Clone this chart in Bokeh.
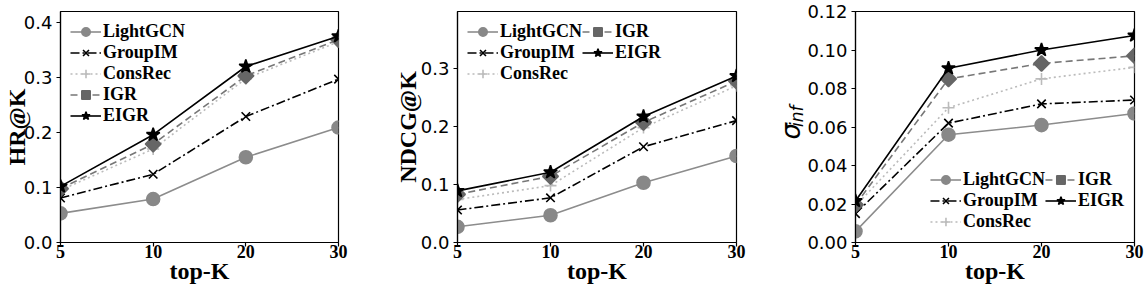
import math
from bokeh.plotting import figure
from bokeh.layouts import row
from bokeh.models import (Range1d, FixedTicker, Legend, LegendItem, LinearAxis,
                          NumeralTickFormatter)
from bokeh.embed import file_html
from bokeh.resources import INLINE

# ---------------- data ----------------
top_k = ["5", "10", "20", "30"]
methods = ["LightGCN", "GroupIM", "ConsRec", "IGR", "EIGR"]

hr_lightgcn = [0.053, 0.079, 0.155, 0.209]
hr_groupim = [0.081, 0.124, 0.229, 0.297]
hr_consrec = [0.095, 0.170, 0.298, 0.365]
hr_igr = [0.098, 0.179, 0.303, 0.369]
hr_eigr = [0.102, 0.196, 0.320, 0.375]

ndcg_lightgcn = [0.027, 0.047, 0.103, 0.149]
ndcg_groupim = [0.056, 0.077, 0.165, 0.210]
ndcg_consrec = [0.074, 0.098, 0.198, 0.270]
ndcg_igr = [0.083, 0.114, 0.207, 0.278]
ndcg_eigr = [0.089, 0.121, 0.217, 0.287]

sig_lightgcn = [0.0058, 0.056, 0.061, 0.067]
sig_groupim = [0.015, 0.062, 0.072, 0.074]
sig_consrec = [0.019, 0.070, 0.085, 0.091]
sig_igr = [0.0196, 0.085, 0.093, 0.097]
sig_eigr = [0.0216, 0.0905, 0.100, 0.1075]

hr_ticks = [0.0, 0.1, 0.2, 0.3, 0.4]
ndcg_ticks = [0.0, 0.1, 0.2, 0.3]
sig_ticks = [0.0, 0.02, 0.04, 0.06, 0.08, 0.10, 0.12]

# ---------------- styles ----------------
styles = {
    "LightGCN": dict(line="#8c8c8c", fill="#888888", dash="solid", marker="circle", size=13, angle=0.0),
    "GroupIM": dict(line="#000000", fill="#000000", dash="9 3 2 3", marker="x", size=12, angle=0.0),
    "ConsRec": dict(line="#bbbbbb", fill="#bbbbbb", dash="2 3", marker="cross", size=12, angle=0.0),
    "IGR": dict(line="#777777", fill="#666666", dash="7 4", marker="square", size=11, angle=math.pi / 4),
    "EIGR": dict(line="#000000", fill="#000000", dash="solid", marker="star", size=14, angle=0.0),
}

SERIF = "Liberation Serif"
SANS = "DejaVu Sans"
H = 288
NBSP = "\u00a0"


def make_panel(ylabel, ylabel_standoff, series, yend, ticks, fmt, width, bl, br, loc, nrows):
    p = figure(width=width, height=H, x_range=Range1d(0, 3), y_range=Range1d(0, yend),
               output_backend="svg", toolbar_location=None,
               min_border_left=bl, min_border_right=br, min_border_top=11,
               min_border_bottom=46)
    p.xgrid.visible = False
    p.ygrid.visible = False
    p.outline_line_color = "black"
    p.outline_line_width = 1.2
    p.outline_line_alpha = 1.0
    p.background_fill_color = "white"
    p.border_fill_color = "white"

    xs = list(range(len(top_k)))
    p.xaxis.ticker = FixedTicker(ticks=xs)
    p.xaxis.major_label_overrides = {i: k for i, k in enumerate(top_k)}
    p.yaxis.ticker = FixedTicker(ticks=ticks)
    p.yaxis.formatter = NumeralTickFormatter(format=fmt)

    for ax in (p.xaxis[0], p.yaxis[0]):
        ax.axis_line_color = "black"
        ax.axis_line_width = 1.2
        ax.major_tick_in = 0
        ax.major_tick_out = 4
        ax.major_tick_line_color = "black"
        ax.major_tick_line_width = 1.2
        ax.minor_tick_line_color = None
        ax.major_label_text_color = "black"
        ax.axis_label_text_color = "black"
        ax.axis_label_text_font = SERIF
        ax.axis_label_text_font_style = "bold"
        ax.axis_label_text_font_size = "24px"

    p.xaxis.major_label_text_font = SERIF
    p.xaxis.major_label_text_font_style = "bold"
    p.xaxis.major_label_text_font_size = "18px"
    p.xaxis.major_label_standoff = -2
    p.xaxis.axis_label = "top-K"
    p.xaxis.axis_label_standoff = -3

    p.yaxis.major_label_text_font = SANS
    p.yaxis.major_label_text_font_size = "18px"
    p.yaxis.major_label_standoff = 4
    p.yaxis.axis_label = ylabel
    p.yaxis.axis_label_standoff = ylabel_standoff

    items = []
    for m, ys in zip(methods, series):
        st = styles[m]
        ln = p.line(xs, ys, line_color=st["line"], line_width=1.6, line_dash=st["dash"])
        sc = p.scatter(xs, ys, marker=st["marker"], size=st["size"], angle=st["angle"],
                       fill_color=st["fill"], line_color=st["fill"], line_width=1.6)
        items.append(LegendItem(label=m, renderers=[ln, sc]))

    legend = Legend(items=items, location=loc)
    if nrows:
        legend.nrows = nrows
    legend.label_text_font = SERIF
    legend.label_text_font_style = "bold"
    legend.label_text_font_size = "18px"
    legend.label_text_color = "black"
    legend.glyph_width = 31
    legend.glyph_height = 21
    legend.label_height = 21
    legend.label_standoff = 2
    legend.spacing = 0
    legend.padding = 0
    legend.margin = 10
    legend.background_fill_alpha = 0
    legend.border_line_alpha = 0
    p.add_layout(legend)
    return p


p1 = make_panel("HR@K", -9, [hr_lightgcn, hr_groupim, hr_consrec, hr_igr, hr_eigr],
                0.42, hr_ticks, "0.0", 390, 59, 52, "top_left", None)
p2 = make_panel("NDCG@K", -3, [ndcg_lightgcn, ndcg_groupim, ndcg_consrec, ndcg_igr, ndcg_eigr],
                0.398, ndcg_ticks, "0.0", 380, 67, 34, "top_left", 3)
p3 = make_panel("σ" + NBSP, -2, [sig_lightgcn, sig_groupim, sig_consrec, sig_igr, sig_eigr],
                0.12, sig_ticks, "0.00", 374, 85, 10, "bottom_right", 3)
p3.yaxis[0].axis_label_text_font = SANS
p3.yaxis[0].axis_label_text_font_style = "italic"
p3.yaxis[0].axis_label_text_font_size = "26px"

# subscript "inf" of the sigma label, as a second (tick-less) axis title
inf_axis = LinearAxis(ticker=FixedTicker(ticks=[]), axis_label=NBSP * 4 + "inf",
                      axis_line_color=None, major_tick_line_color=None,
                      minor_tick_line_color=None, major_tick_out=0, major_tick_in=0,
                      minor_tick_out=0, major_label_text_font_size="0px",
                      axis_label_standoff=-33, axis_label_text_font=SANS,
                      axis_label_text_font_style="italic", axis_label_text_font_size="17px",
                      axis_label_text_color="black")
p3.add_layout(inf_axis, "left")

layout = row(p1, p2, p3)
open("out.html", "w").write(file_html(layout, INLINE))
